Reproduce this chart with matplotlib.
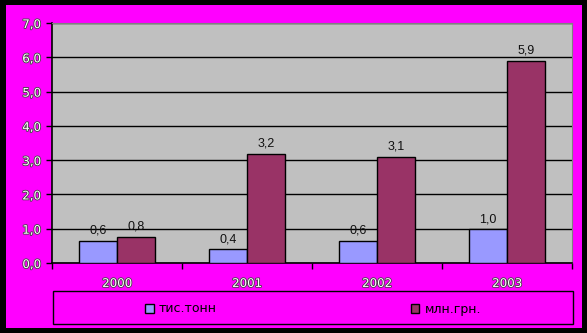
import matplotlib.pyplot as plt
import matplotlib.patheffects as pe
from matplotlib.patches import Rectangle
import numpy as np

years = ['2000', '2001', '2002', '2003']
tonnes = [0.64, 0.40, 0.64, 0.98]        # тис.тонн
uah = [0.76, 3.18, 3.10, 5.89]           # млн.грн.
series_names = ['тис.тонн', 'млн.грн.']

plt.rcParams['font.family'] = ['Liberation Sans', 'DejaVu Sans']

fig = plt.figure(figsize=(5.87, 3.33), dpi=100)
fig.patch.set_facecolor('black')
# magenta chart area inside the black frame
fig.patches.append(Rectangle((6 / 587, 1 - 328 / 333), 575.5 / 587, 323 / 333,
                             transform=fig.transFigure, facecolor='#FF00FF',
                             edgecolor='none', zorder=-2))
# legend box
fig.patches.append(Rectangle((53 / 587, 1 - 324 / 333), 520 / 587, 33 / 333,
                             transform=fig.transFigure, facecolor='#FF00FF',
                             edgecolor='black', linewidth=1, zorder=-1))

ax = fig.add_axes([52 / 587, 1 - 263 / 333, 520 / 587, 240 / 333])
ax.set_facecolor('#C0C0C0')

x = np.arange(len(years))
w = 0.29
b1 = ax.bar(x - w / 2, tonnes, w, color='#9999FF', edgecolor='black', linewidth=1, zorder=3)
b2 = ax.bar(x + w / 2, uah, w, color='#993366', edgecolor='black', linewidth=1, zorder=3)

for bars, vals in [(b1, tonnes), (b2, uah)]:
    for r, v in zip(bars, vals):
        ax.annotate(f'{v:.1f}'.replace('.', ','), (r.get_x() + r.get_width() / 2, v),
                    xytext=(0, 3), textcoords='offset points', ha='center', va='bottom',
                    fontsize=9, color='#111111')

ax.set_xlim(-0.5, 3.5)
ax.set_ylim(0, 7)
ax.set_yticks(np.arange(0, 8))
ax.set_yticklabels([f'{v:.1f}'.replace('.', ',') for v in range(8)])
ax.yaxis.grid(True, color='black', linewidth=1)
ax.set_axisbelow(True)

ax.set_xticks(x)
ax.set_xticklabels(years)
ax.set_xticks(np.arange(-0.5, 4.0, 1.0), minor=True)
ax.tick_params(axis='x', which='major', length=0, pad=10)
ax.tick_params(axis='x', which='minor', length=4, width=1, color='black', direction='out')
ax.tick_params(axis='y', length=4, width=1, color='black', direction='out', pad=4)

outline = [pe.withStroke(linewidth=1.2, foreground='#444444')]
for t in ax.get_xticklabels() + ax.get_yticklabels():
    t.set_color('white')
    t.set_fontsize(8.5)
    t.set_family('DejaVu Sans')
    t.set_path_effects(outline)

for s in ['top', 'right']:
    ax.spines[s].set_color('#808080')
for s in ['left', 'bottom']:
    ax.spines[s].set_color('black')
    ax.spines[s].set_linewidth(1.2)

leg = fig.legend([b1, b2], series_names, loc='center',
                 bbox_to_anchor=(313 / 587, 1 - 309 / 333), ncol=2, frameon=False,
                 prop={'family': 'DejaVu Sans', 'size': 9},
                 handlelength=0.7, handleheight=0.7, handletextpad=0.4,
                 columnspacing=15.5)

fig.savefig('out.png', dpi=100, facecolor=fig.get_facecolor())
